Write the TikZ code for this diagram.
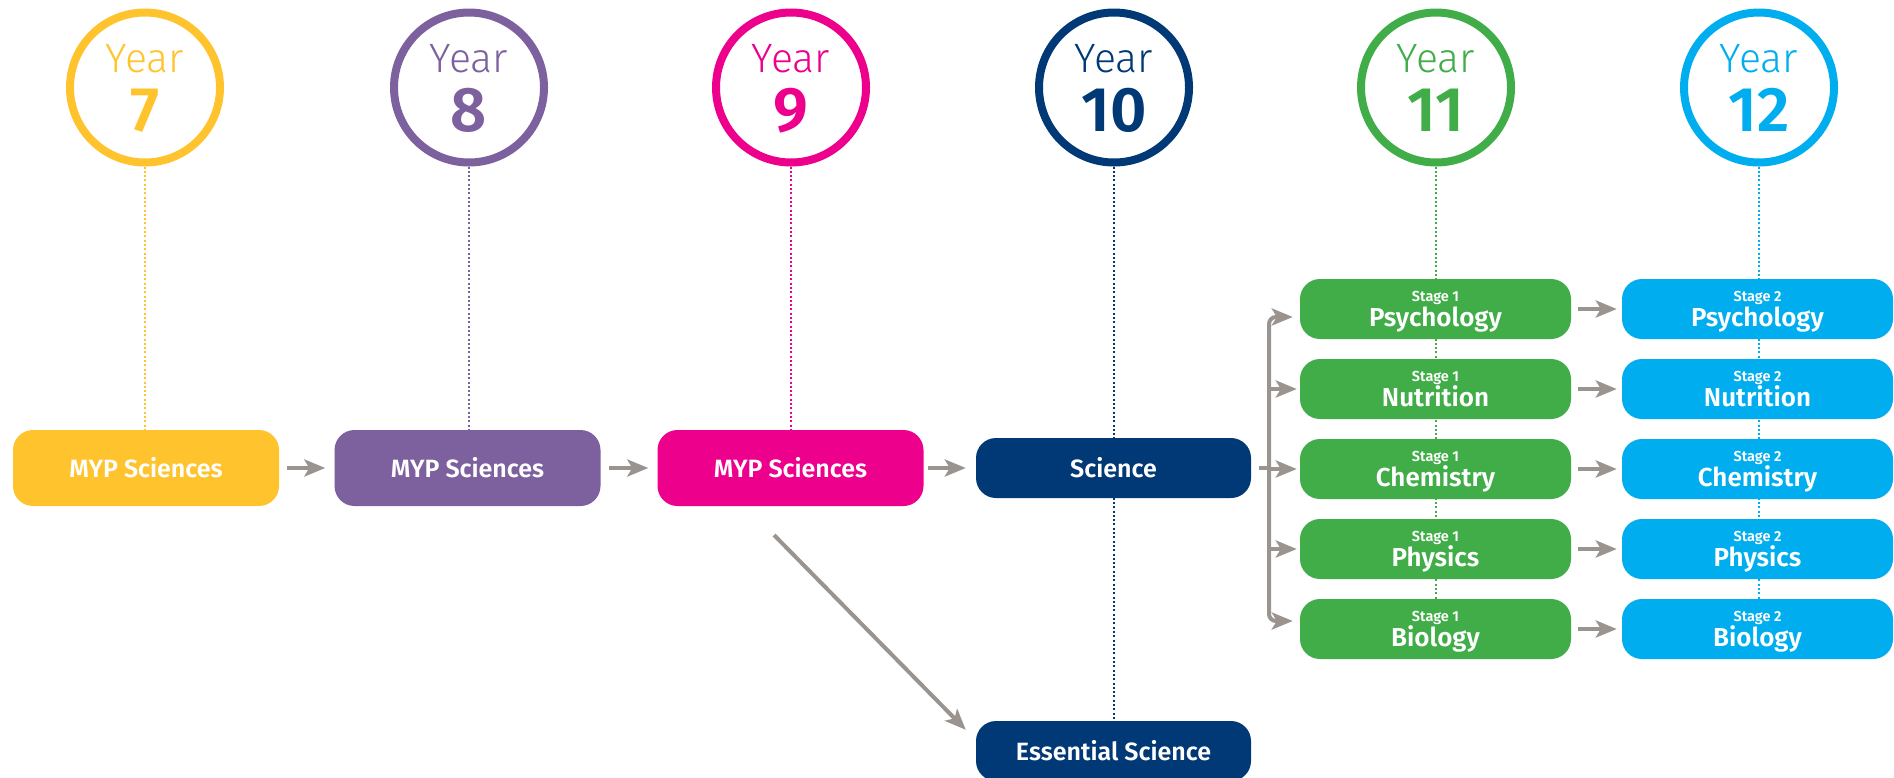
\documentclass[tikz,border=0pt]{standalone}
\usepackage{fontspec}
\setmainfont{Fira Sans}
\newfontfamily\lightf{Fira Sans Light}
\newfontfamily\semif{Fira Sans SemiBold}
\usetikzlibrary{arrows.meta,backgrounds,calc}
\definecolor{cY}{RGB}{255,196,45}
\definecolor{cP}{RGB}{125,97,158}
\definecolor{cM}{RGB}{236,0,140}
\definecolor{cN}{RGB}{0,57,118}
\definecolor{cG}{RGB}{65,173,73}
\definecolor{cC}{RGB}{0,174,239}
\definecolor{cA}{RGB}{155,148,142}
\tikzset{
  yearring/.style={circle, draw=#1, line width=8pt, minimum size=150pt, inner sep=0pt},
  yeartxt/.style={text=#1, font=\lightf\fontsize{41}{41}\selectfont, anchor=base, inner sep=0pt},
  yearnum/.style={text=#1, font=\semif\fontsize{63}{63}\selectfont, anchor=base, inner sep=0pt},
  mainbox/.style={fill=#1, rounded corners=20pt, minimum width=266pt, minimum height=76pt, text=white, font=\semif\fontsize{25}{25}\selectfont, inner sep=0pt},
  sbox/.style={fill=#1, rounded corners=20pt, minimum width=275pt, minimum height=60pt, text=white, font=\semif\fontsize{25}{25}\selectfont, inner sep=0pt},
  stagebox/.style={fill=#1, rounded corners=20pt, minimum width=271pt, minimum height=60pt, inner sep=0pt},
  stagelbl/.style={text=white, font=\semif\fontsize{14.5}{14.5}\selectfont, anchor=base, inner sep=0pt},
  subjlbl/.style={text=white, font=\semif\fontsize{26}{26}\selectfont, anchor=base, inner sep=0pt},
  dotline/.style={draw=#1, line width=2pt, dash pattern=on 2pt off 2.3pt},
  arr/.style={draw=cA, line width=4pt, -{Stealth[length=21pt,width=17pt,inset=5pt]}},
  gline/.style={draw=cA, line width=4pt},
}
\begin{document}
\begin{tikzpicture}[x=1pt,y=-1pt]
\useasboundingbox (0,0) rectangle (1894,777);
% year circles
\foreach \n/\x/\c in {7/145/cY, 8/469/cP, 9/791/cM, 10/1114/cN, 11/1436/cG, 12/1759/cC} {
  \node[yearring=\c] (c\n) at (\x,87.5) {};
  \node[yeartxt=\c] (y\n) at ($(c\n.center)+(0,-15.5)$) {Year};
  \node[yearnum=\c] (n\n) at ($(c\n.center)+(0,43.5)$) {\n};
}
% main boxes
\node[mainbox=cY] (b7) at (146,468) {MYP Sciences};
\node[mainbox=cP] (b8) at (467.5,468) {MYP Sciences};
\node[mainbox=cM] (b9) at (790.5,468) {MYP Sciences};
\node[sbox=cN] (sci) at (1113.5,468) {Science};
\node[sbox=cN] (ess) at (1113.5,751) {Essential Science};
% stage boxes
\foreach \i/\s in {1/Psychology, 2/Nutrition, 3/Chemistry, 4/Physics, 5/Biology} {
  \pgfmathsetmacro{\yy}{309+80*(\i-1)}
  \node[stagebox=cG] (g\i) at (1435.5,\yy) {};
  \node[stagelbl] (g\i s) at ($(g\i.center)+(0,-8)$) {Stage 1};
  \node[subjlbl] (g\i t) at ($(g\i.center)+(0,17)$) {\s};
  \node[stagebox=cC] (s\i) at (1757.5,\yy) {};
  \node[stagelbl] (s\i s) at ($(s\i.center)+(0,-8)$) {Stage 2};
  \node[subjlbl] (s\i t) at ($(s\i.center)+(0,17)$) {\s};
  \draw[arr, shorten <=7pt, shorten >=5pt] (g\i) -- (s\i);
}
% dotted guide lines
\begin{scope}[on background layer]
\draw[dotline=cY] (c7.south) -- (c7.south |- b7.north);
\draw[dotline=cP] (c8.south) -- (c8.south |- b8.north);
\draw[dotline=cM] (c9.south) -- (c9.south |- b9.north);
\draw[dotline=cN] (c10.south) -- (c10.south |- ess.north);
\draw[dotline=cG] (c11.south) -- (c11.south |- g5.north);
\draw[dotline=cC] (c12.south) -- (c12.south |- s5.north);
\end{scope}
% arrows
\draw[arr, shorten <=8pt, shorten >=9pt] (b7) -- (b8);
\draw[arr, shorten <=8pt, shorten >=9pt] (b8) -- (b9);
\draw[arr, shorten <=4pt, shorten >=10pt] (b9) -- (sci);
\coordinate (dstart) at (774,535);
\draw[arr] (dstart) -- ([xshift=-10pt,yshift=-9pt]ess.north west);
% bracket
\coordinate (brk) at (1269,468);
\draw[gline, shorten <=8pt] (sci.east) -- (brk);
\draw[arr, rounded corners=7pt, shorten >=7pt] (brk) |- ([yshift=-8pt]g1.west);
\draw[arr, rounded corners=7pt, shorten >=7pt] (brk) |- ([yshift=8pt]g5.west);
\foreach \i in {2,3,4} {
  \draw[arr, shorten >=3pt] (brk |- g\i.west) -- (g\i.west);
}
\end{tikzpicture}
\end{document}
